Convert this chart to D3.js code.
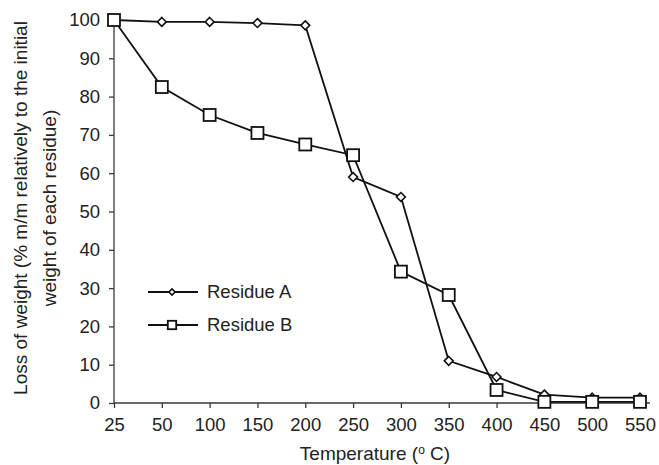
<!DOCTYPE html>
<html>
<head>
<meta charset="utf-8">
<script src="https://cdn.jsdelivr.net/npm/d3@7"></script>
<style>
  body { margin: 0; background: #fff; }
  svg text { font-family: "Liberation Sans", Arial, sans-serif; }
</style>
</head>
<body>
<svg width="659" height="465"></svg>
<script>

// temperatures (categorical, evenly spaced)
var temps = ["25", "50", "100", "150", "200", "250", "300", "350", "400", "450", "500", "550"];
var residueA = [100, 99.5, 99.5, 99.2, 98.6, 59.0, 53.8, 11.0, 6.8, 2.2, 1.4, 1.4];
var residueB = [100, 82.5, 75.2, 70.5, 67.5, 64.7, 34.3, 28.2, 3.4, 0.3, 0.3, 0.3];
var yTicks = [0, 10, 20, 30, 40, 50, 60, 70, 80, 90, 100];

var svg = d3.select("svg"),
    ink = "#111",
    axisInk = "#3a3a3a",
    fontSize = "18.5px",
    titleSize = "19px";

var x = d3.scalePoint().domain(temps).range([114, 640]);
var y = d3.scaleLinear().domain([0, 100]).range([403, 20]);

// axes
var xAxis = svg.append("g")
    .attr("transform", "translate(0,403)")
    .call(d3.axisBottom(x).tickSize(5).tickPadding(10).tickSizeOuter(0));
var yAxis = svg.append("g")
    .attr("transform", "translate(114,0)")
    .call(d3.axisLeft(y).tickValues(yTicks).tickSize(5).tickPadding(9).tickSizeOuter(0));

[xAxis, yAxis].forEach(function(g) {
  g.attr("font-family", null).attr("font-size", null);
  g.select(".domain").remove();
  g.selectAll(".tick line").attr("stroke", axisInk).attr("stroke-width", 1.3);
  g.selectAll(".tick text").attr("fill", "#222").style("font-size", fontSize);
});
svg.append("line").attr("x1", 114).attr("x2", 650).attr("y1", 403).attr("y2", 403)
    .attr("stroke", axisInk).attr("stroke-width", 1.3);
svg.append("line").attr("x1", 114).attr("x2", 114).attr("y1", 403).attr("y2", 20)
    .attr("stroke", axisInk).attr("stroke-width", 1.3);

// axis titles
svg.append("text")
    .attr("transform", "translate(27,208) rotate(-90)")
    .attr("text-anchor", "middle")
    .style("font-size", titleSize).attr("fill", "#222")
    .text("Loss of weight (% m/m relatively to the initial");
svg.append("text")
    .attr("transform", "translate(56,208) rotate(-90)")
    .attr("text-anchor", "middle")
    .style("font-size", titleSize).attr("fill", "#222")
    .text("weight of each residue)");
var xt = svg.append("text")
    .attr("x", 375).attr("y", 460)
    .attr("text-anchor", "middle")
    .style("font-size", titleSize).attr("fill", "#222");
xt.append("tspan").text("Temperature (");
xt.append("tspan").attr("dy", -6).style("font-size", "12px").text("o");
xt.append("tspan").attr("dy", 6).text(" C)");

var line = d3.line()
    .x(function(d, i) { return x(temps[i]); })
    .y(function(d) { return y(d); });

function drawSeries(values, shape) {
  svg.append("path")
      .datum(values)
      .attr("d", line)
      .attr("fill", "none")
      .attr("stroke", ink)
      .attr("stroke-width", 1.8);
  var pts = svg.append("g").selectAll("g")
    .data(values)
    .join("g")
      .attr("transform", function(d, i) { return "translate(" + x(temps[i]) + "," + y(d) + ")"; });
  drawMarker(pts, shape, 1);
}

function drawMarker(sel, shape, k) {
  if (shape == "square") {
    var s = 12 * k;
    sel.append("rect")
        .attr("x", -s / 2).attr("y", -s / 2).attr("width", s).attr("height", s)
        .attr("fill", "#fff").attr("stroke", ink).attr("stroke-width", 1.8);
  } else {
    sel.append("path")
        .attr("d", d3.symbol().type(d3.symbolDiamond2).size(50 * k * k))
        .attr("fill", "#fff").attr("stroke", ink).attr("stroke-width", 1.6);
  }
}

drawSeries(residueA, "diamond");
drawSeries(residueB, "square");

// legend
var legend = [{name: "Residue A", shape: "diamond"}, {name: "Residue B", shape: "square"}];
var lg = svg.append("g").selectAll("g")
  .data(legend)
  .join("g")
    .attr("transform", function(d, i) { return "translate(0," + (292 + i * 33) + ")"; });
lg.append("line")
    .attr("x1", 148).attr("x2", 198)
    .attr("stroke", ink).attr("stroke-width", 1.8);
lg.each(function(d) {
  var m = d3.select(this).append("g").attr("transform", "translate(172,0)");
  drawMarker(m, d.shape, 0.7);
});
lg.append("text")
    .attr("x", 207).attr("dy", "0.35em")
    .style("font-size", fontSize).attr("fill", "#222")
    .text(function(d) { return d.name; });

</script>
</body>
</html>
